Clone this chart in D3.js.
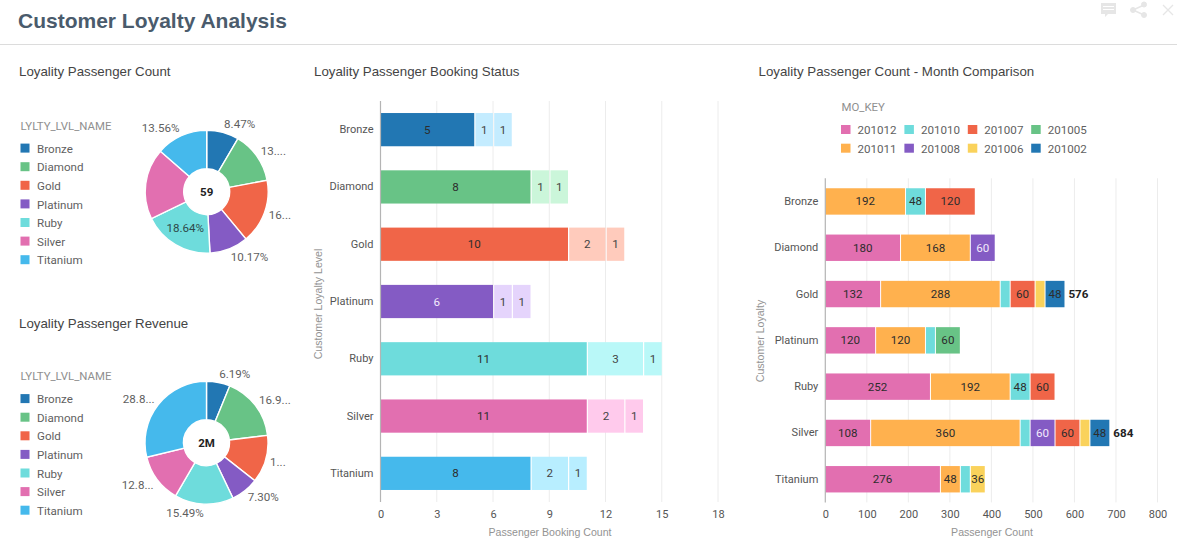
<!DOCTYPE html>
<html><head><meta charset="utf-8">
<script src="https://cdn.jsdelivr.net/npm/d3@7"></script>
<style>
html,body{margin:0;padding:0;background:#fff;overflow:hidden}
svg{display:block}
text{font-family:Roboto,sans-serif}
.ttl{font-family:"Liberation Sans",sans-serif;font-size:13.3px;fill:#444}
.axt{font-family:"Liberation Sans",sans-serif;font-size:10.6px;fill:#939393}
.tick{font-size:11px;fill:#555}
.lg{font-size:11.6px;fill:#5f5f5f}
.lgt{font-size:11.4px;fill:#8f8f8f}
</style></head><body>
<svg id="c" width="1177" height="544"></svg>
<script>
// ---- data ----
const levels = ["Bronze","Diamond","Gold","Platinum","Ruby","Silver","Titanium"];
const levelColors = ["#2277b3","#68c386","#f06548","#845bc4","#6edcdc","#e26fb0","#45b9ec"];
const levelTints2 = ["#c4ecff","#cbf6da","#ffcbbc","#e5d4fc","#b9f8f8","#ffcaec","#b8eeff"];

const countValues = [8.47,13.56,16.95,10.17,18.64,18.64,13.56];
const countLabels = ["8.47%","13....","16...","10.17%","18.64%","","13.56%"];
const revenueValues = [6.19,16.9,12.52,7.30,15.49,12.8,28.8];
const revenueLabels = ["6.19%","16.9...","1...","7.30%","15.49%","12.8...","28.8..."];

const statusA = [5,8,10,6,11,11,8];
const statusB = [1,1,2,1,3,2,2];
const statusC = [1,1,1,1,1,1,1];
const statusTicks = [0,3,6,9,12,15,18];

const months = ["201012","201011","201010","201008","201007","201006","201005","201002"];
const monthColors = ["#e26fb0","#ffb14e","#6edcdc","#845bc4","#f06548","#fad25b","#68c386","#2277b3"];
const m201012 = [0,180,132,120,252,108,276];
const m201011 = [192,168,288,120,192,360,48];
const m201010 = [48,0,24,24,48,24,24];
const m201008 = [0,60,0,0,0,60,0];
const m201007 = [120,0,60,0,60,60,0];
const m201006 = [0,0,24,0,0,24,36];
const m201005 = [0,0,0,60,0,0,0];
const m201002 = [0,0,48,0,0,48,0];
const monthValues = [m201012,m201011,m201010,m201008,m201007,m201006,m201005,m201002];
const monthTicks = [0,100,200,300,400,500,600,700,800];
const hiddenLabelBelow = 36;
const totalShownAbove = 560;

// ---- page ----
const svg = d3.select("#c");
svg.append("text").attr("x",18).attr("y",28)
  .style("font-family","'Liberation Sans',sans-serif").style("font-size","21px").style("font-weight","700")
  .attr("fill","#4a5b6c").text("Customer Loyalty Analysis");
svg.append("line").attr("x1",0).attr("x2",1177).attr("y1",44.5).attr("y2",44.5).attr("stroke","#dcdcdc");

// toolbar icons
const ic = svg.append("g").attr("fill","#e6e6e6").attr("stroke","#e6e6e6");
ic.append("path").attr("stroke","none").attr("fill-rule","evenodd")
  .attr("d","M1101 3h15v11h-8l-3 3v-3h-4zM1103 6v1h11v-1zM1103 9v1h11v-1z");
ic.append("path").attr("fill","none").attr("stroke-width",1.5).attr("d","M1144 5L1133 10L1144 15");
ic.append("circle").attr("cx",1144).attr("cy",4.5).attr("r",2.5);
ic.append("circle").attr("cx",1133).attr("cy",10).attr("r",2.5);
ic.append("circle").attr("cx",1144).attr("cy",15).attr("r",2.5);
ic.append("path").attr("fill","none").attr("stroke-width",1.3).attr("d","M1163 5L1173 15M1173 5L1163 15");

// ---- donuts ----
function donut(title,titleY,cx,cy,values,labels,center,legendY){
  svg.append("text").attr("class","ttl").attr("x",19).attr("y",titleY).text(title);
  svg.append("text").attr("class","lgt").attr("x",20.5).attr("y",legendY).text("LYLTY_LVL_NAME");
  levels.forEach((l,i)=>{
    const y = legendY+18.6*(i+1);
    svg.append("rect").attr("x",20.5).attr("y",y-4.5).attr("width",9).attr("height",9).attr("fill",levelColors[i]);
    svg.append("text").attr("class","lg").attr("x",37).attr("y",y+4.6).text(l);
  });
  const g = svg.append("g").attr("transform",`translate(${cx},${cy})`);
  const pie = d3.pie().sort(null).value(d=>d);
  const arcs = pie(values);
  const arc = d3.arc().innerRadius(23).outerRadius(61.5);
  const labX = d3.arc().innerRadius(66).outerRadius(66);
  const labY = d3.arc().innerRadius(70).outerRadius(70);
  g.selectAll("path").data(arcs).join("path").attr("d",arc)
    .attr("fill",(d,i)=>levelColors[i]).attr("stroke","#fff").attr("stroke-width",1.4);
  const isInside = i => labels===countLabels && i===4;
  g.selectAll("text.pl").data(arcs).join("text").attr("class","pl")
    .attr("transform",(d,i)=>{
      const p = isInside(i) ? arc.centroid(d) : [labX.centroid(d)[0],labY.centroid(d)[1]];
      return `translate(${p[0]},${p[1]+4})`;
    })
    .attr("text-anchor",(d,i)=>isInside(i)?"middle":((d.startAngle+d.endAngle)/2<Math.PI?"start":"end"))
    .style("font-size","11.6px").attr("fill",(d,i)=>isInside(i)?"#2f4a4a":"#5f5f5f")
    .text((d,i)=>labels[i]);
  g.append("text").attr("text-anchor","middle").attr("y",4).style("font-size","11.5px").style("font-weight","700")
    .attr("fill","#222").text(center);
}
donut("Loyality Passenger Count",76,206.7,191.7,countValues,countLabels,"59",129.5);
donut("Loyality Passenger Revenue",327.5,206.5,442.7,revenueValues,revenueLabels,"2M",380);

// ---- shared bar frame ----
function frame(x,y,ticks,xTitle,xTitleX,yTitle,yTitleX,yTitleY,title,titleX){
  svg.append("text").attr("class","ttl").attr("x",titleX).attr("y",76).text(title);
  const g = svg.append("g");
  g.selectAll("line.gr").data(ticks.slice(1)).join("line").attr("class","gr")
    .attr("x1",d=>x(d)).attr("x2",d=>x(d)).attr("y1",y.range()[0]).attr("y2",y.range()[1])
    .attr("stroke","#ececec");
  const ax = svg.append("g").attr("transform",`translate(0,${y.range()[1]})`)
    .call(d3.axisBottom(x).tickValues(ticks).tickSize(0).tickPadding(8));
  ax.select(".domain").remove();
  ax.selectAll("text").attr("class","tick").attr("fill",null);
  const ay = svg.append("g").attr("transform",`translate(${x(0)},0)`)
    .call(d3.axisLeft(y).tickSize(0).tickPadding(7));
  ay.select(".domain").remove();
  ay.selectAll("text").attr("class","tick").attr("fill",null);
  svg.append("text").attr("class","axt").attr("text-anchor","middle").attr("x",xTitleX).attr("y",536).text(xTitle);
  svg.append("text").attr("class","axt").attr("text-anchor","middle")
    .attr("transform",`translate(${yTitleX},${yTitleY}) rotate(-90)`).text(yTitle);
  return ()=>svg.append("line").attr("x1",x(0)).attr("x2",x(0)).attr("y1",y.range()[0]).attr("y2",y.range()[1]).attr("stroke","#b4b4b4").attr("stroke-width",1.2);
}
const labelFill = c => (c==="#845bc4") ? "#f2eafc" : "#2d2d2d";

// ---- booking status ----
{
  const x = d3.scaleLinear().domain([0,18]).range([380.5,718]);
  const y = d3.scaleBand().domain(levels).range([101,502]).paddingInner(0.42).paddingOuter(0.21);
  const finish = frame(x,y,statusTicks,"Passenger Booking Count",550,"Customer Loyalty Level",322,304,"Loyality Passenger Booking Status",314);
  const series = [statusA,statusB,statusC];
  const stack = d3.stack().keys([0,1,2]).value((d,k)=>series[k][d]);
  stack(levels.map((_,i)=>i)).forEach((s,k)=>{
    const g = svg.append("g");
    s.forEach((seg,i)=>{
      const fill = k===0 ? levelColors[i] : levelTints2[i];
      const x0=x(seg[0])+(k?1.2:0), x1=x(seg[1]);
      g.append("rect").attr("x",x0).attr("y",y(levels[i])).attr("width",x1-x0).attr("height",y.bandwidth()).attr("fill",fill);
      g.append("text").attr("x",(x0+x1)/2).attr("y",y(levels[i])+y.bandwidth()/2+4).attr("text-anchor","middle")
        .style("font-size","11.6px").attr("fill",k===0?labelFill(fill):"#444").text(series[k][i]);
    });
  });
  finish();
}

// ---- month comparison ----
{
  const x = d3.scaleLinear().domain([0,800]).range([825.3,1157.5]);
  const y = d3.scaleBand().domain(levels).range([178.3,502.4]).paddingInner(0.43).paddingOuter(0.215);
  svg.append("text").attr("class","lgt").attr("x",841.5).attr("y",111).text("MO_KEY");
  months.forEach((m,i)=>{
    const col=Math.floor(i/2), row=i%2;
    const lx=841+col*63.4, ly=129.5+row*18.7;
    svg.append("rect").attr("x",lx).attr("y",ly-4.5).attr("width",9.5).attr("height",9).attr("fill",monthColors[i]);
    svg.append("text").attr("class","lg").attr("x",lx+16.5).attr("y",ly+4.6).text(m);
  });
  const finish = frame(x,y,monthTicks,"Passenger Count",992,"Customer Loyalty",764,341,"Loyality Passenger Count - Month Comparison",758.5);
  let seen = levels.map(()=>0);
  const stack = d3.stack().keys(months.map((_,k)=>k)).value((d,k)=>monthValues[k][d]);
  stack(levels.map((_,i)=>i)).forEach((s,k)=>{
    const g = svg.append("g");
    s.forEach((seg,i)=>{
      const v = monthValues[k][i];
      if(!v) return;
      const x0=x(seg[0])+(seen[i]?1:0), x1=x(seg[1]);
      seen[i]=1;
      g.append("rect").attr("x",x0).attr("y",y(levels[i])).attr("width",x1-x0).attr("height",y.bandwidth()).attr("fill",monthColors[k]);
      if(v>=hiddenLabelBelow)
        g.append("text").attr("x",(x0+x1)/2).attr("y",y(levels[i])+y.bandwidth()/2+4).attr("text-anchor","middle")
          .style("font-size","11.6px").attr("fill",labelFill(monthColors[k])).text(v);
    });
  });
  levels.forEach((l,i)=>{
    const total = d3.sum(monthValues,s=>s[i]);
    if(total>totalShownAbove)
      svg.append("text").attr("x",x(total)+4).attr("y",y(l)+y.bandwidth()/2+4)
        .style("font-size","11.6px").style("font-weight","700").attr("fill","#222").text(total);
  });
  finish();
}
</script>
</body></html>
